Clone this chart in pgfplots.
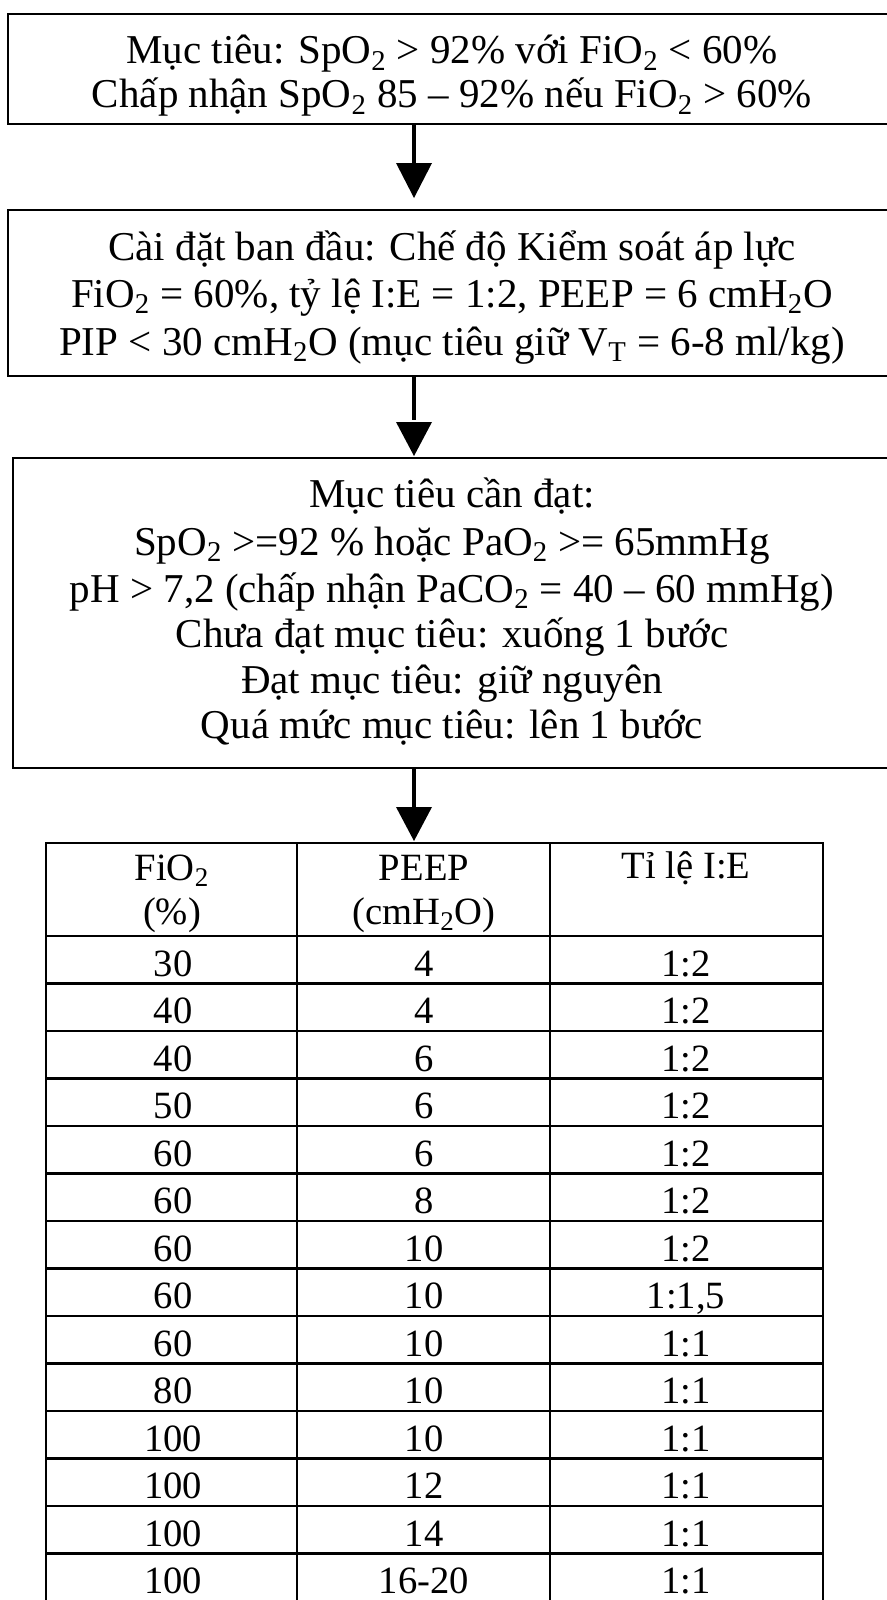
\documentclass[border=0pt]{standalone}
\usepackage{pgfplots}
\usepackage{pgfplotstable}
\pgfplotsset{compat=1.18}
\usepackage{fontspec}
\setmainfont{Liberation Serif}
\newcommand\txt{\fontsize{19.3pt}{23pt}\selectfont}
\newcommand\btxt{\fontsize{20.5pt}{24pt}\selectfont}
\newcommand\sub[1]{\textsubscript{#1}}

\pgfplotstableread{
row fio peep ie
1 30 4 1:2
2 40 4 1:2
3 40 6 1:2
4 50 6 1:2
5 60 6 1:2
6 60 8 1:2
7 60 10 1:2
8 60 10 1:1,5
9 60 10 1:1
10 80 10 1:1
11 100 10 1:1
12 100 12 1:1
13 100 14 1:1
14 100 16-20 1:1
}\ventrows

\begin{document}
\begin{tikzpicture}
\begin{axis}[
  width=443.5pt, height=800pt, scale only axis,
  xmin=0, xmax=887, ymin=0, ymax=1600, y dir=reverse,
  axis lines=none, ticks=none, clip=false,
]
\coordinate (BL) at (axis cs:0,1600);
\coordinate (TR) at (axis cs:887,0);

% boxes
\draw[line width=1.3pt] (axis cs:920,14) -- (axis cs:8,14) -- (axis cs:8,124) -- (axis cs:920,124);
\draw[line width=1.3pt] (axis cs:920,210) -- (axis cs:8,210) -- (axis cs:8,376) -- (axis cs:920,376);
\draw[line width=1.3pt] (axis cs:920,458) -- (axis cs:13,458) -- (axis cs:13,768) -- (axis cs:920,768);

% arrows
\draw[line width=2.3pt] (axis cs:414,124) -- (axis cs:414,170);
\fill (axis cs:396,163) -- (axis cs:432,163) -- (axis cs:414,198) -- cycle;
\draw[line width=2.3pt] (axis cs:414,376) -- (axis cs:414,420);
\fill (axis cs:396,422) -- (axis cs:432,422) -- (axis cs:414,456) -- cycle;
\draw[line width=2.3pt] (axis cs:414,768) -- (axis cs:414,810);
\fill (axis cs:396,807) -- (axis cs:432,807) -- (axis cs:414,841) -- cycle;

% box texts
\node[anchor=base, inner sep=0pt] at (axis cs:452,64) {\btxt Mục tiêu: SpO\sub{2} > 92\% với FiO\sub{2} < 60\%};
\node[anchor=base, inner sep=0pt] at (axis cs:452,108) {\btxt Chấp nhận SpO\sub{2} 85 – 92\% nếu FiO\sub{2} > 60\%};

\node[anchor=base, inner sep=0pt] at (axis cs:452,260) {\btxt Cài đặt ban đầu: Chế độ Kiểm soát áp lực};
\node[anchor=base, inner sep=0pt] at (axis cs:452,307) {\btxt FiO\sub{2} = 60\%, tỷ lệ I:E = 1:2, PEEP = 6 cmH\sub{2}O};
\node[anchor=base, inner sep=0pt] at (axis cs:452,355) {\btxt PIP < 30 cmH\sub{2}O (mục tiêu giữ V\sub{T} = 6-8 ml/kg)};

\node[anchor=base, inner sep=0pt] at (axis cs:452,507) {\btxt Mục tiêu cần đạt:};
\node[anchor=base, inner sep=0pt] at (axis cs:452,555) {\btxt SpO\sub{2} >=92 \% hoặc PaO\sub{2} >= 65mmHg};
\node[anchor=base, inner sep=0pt] at (axis cs:452,602) {\btxt pH > 7,2 (chấp nhận PaCO\sub{2} = 40 – 60 mmHg)};
\node[anchor=base, inner sep=0pt] at (axis cs:452,647) {\btxt Chưa đạt mục tiêu: xuống 1 bước};
\node[anchor=base, inner sep=0pt] at (axis cs:452,693) {\btxt Đạt mục tiêu: giữ nguyên};
\node[anchor=base, inner sep=0pt] at (axis cs:452,738) {\btxt Quá mức mục tiêu: lên 1 bước};

% table grid
\draw[line width=1.1pt] (axis cs:46,1610) -- (axis cs:46,843) -- (axis cs:823,843) -- (axis cs:823,1610);
\draw[line width=1.1pt] (axis cs:297,843) -- (axis cs:297,1610);
\draw[line width=1.1pt] (axis cs:550,843) -- (axis cs:550,1610);
\draw[line width=1.1pt] (axis cs:46,936) -- (axis cs:823,936);
\pgfplotsinvokeforeach{1,...,13}{
  \draw[line width=1.1pt] (axis cs:46,936+47.5*#1) -- (axis cs:823,936+47.5*#1);
}

% header
\node[anchor=base, inner sep=0pt] at (axis cs:172,880) {\txt FiO\sub{2}};
\node[anchor=base, inner sep=0pt] at (axis cs:172,924) {\txt (\%)};
\node[anchor=base, inner sep=0pt] at (axis cs:424,880) {\txt PEEP};
\node[anchor=base, inner sep=0pt] at (axis cs:424,924) {\txt (cmH\sub{2}O)};
\node[anchor=base, inner sep=0pt] at (axis cs:686,878) {\txt Tỉ lệ I:E};

% table rows
\addplot[only marks, mark=none, nodes near coords, point meta=explicit symbolic,
  every node near coord/.append style={anchor=base, inner sep=0pt, font=\txt}]
  table[x expr=173, y expr={936+47.5*(\thisrow{row}-1)+40}, meta=fio] {\ventrows};
\addplot[only marks, mark=none, nodes near coords, point meta=explicit symbolic,
  every node near coord/.append style={anchor=base, inner sep=0pt, font=\txt}]
  table[x expr=424, y expr={936+47.5*(\thisrow{row}-1)+40}, meta=peep] {\ventrows};
\addplot[only marks, mark=none, nodes near coords, point meta=explicit symbolic,
  every node near coord/.append style={anchor=base, inner sep=0pt, font=\txt}]
  table[x expr=686, y expr={936+47.5*(\thisrow{row}-1)+40}, meta=ie] {\ventrows};
\end{axis}
\pgfresetboundingbox
\path[use as bounding box] (BL) rectangle (TR);
\end{tikzpicture}
\end{document}
